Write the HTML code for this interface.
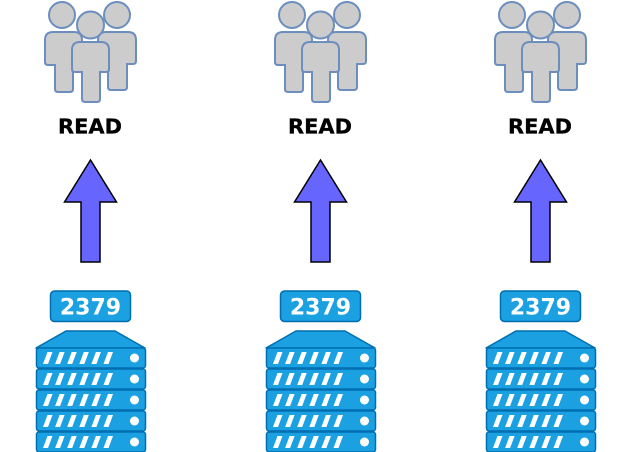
<!DOCTYPE html>
<html>
<head>
<meta charset="utf-8">
<style>
html,body{margin:0;padding:0;background:#fff;}
svg{display:block;}
</style>
</head>
<body>
<svg width="631" height="452" viewBox="0 0 631 452" xmlns="http://www.w3.org/2000/svg">
<defs>
<g id="grp">
  <!-- users -->
  <g fill="#cccccc" stroke="#6c8ebf" stroke-width="2">
    <circle cx="62" cy="15" r="13"/>
    <circle cx="117" cy="15" r="13"/>
    <path d="M45,40 Q45,32 53,32 H74 Q82,32 82,40 V62 Q82,65 79,65 H73 V89 Q73,92 70,92 H58 Q55,92 55,89 V65 H48 Q45,65 45,62 Z"/>
    <path d="M98,40 Q98,32 106,32 H128 Q136,32 136,40 V61 Q136,64 133,64 H127 V87 Q127,90 124,90 H111 Q108,90 108,87 V64 H101 Q98,64 98,61 Z"/>
    <circle cx="90.5" cy="25" r="13.5"/>
    <path d="M72,50 Q72,42 80,42 H101 Q109,42 109,50 V69 Q109,72 106,72 H100 V99 Q100,102 97,102 H85 Q82,102 82,99 V72 H75 Q72,72 72,69 Z"/>
  </g>
  <text x="90" y="133.5" text-anchor="middle" font-family="DejaVu Sans, Liberation Sans, sans-serif" font-weight="bold" font-size="20" textLength="64" lengthAdjust="spacingAndGlyphs" fill="#000" stroke="#000" stroke-width="0.3">READ</text>
  <!-- arrow -->
  <polygon points="90.5,160 116.5,202 100,202 100,262 81,262 81,202 64.5,202" fill="#6666ff" stroke="#000" stroke-width="1.5" stroke-linejoin="miter"/>
  <!-- label -->
  <rect x="50.5" y="291" width="80" height="30.5" rx="4" fill="#1ba1e2" stroke="#006eaf" stroke-width="1.5"/>
  <text x="90.5" y="314.5" text-anchor="middle" font-family="DejaVu Sans, Liberation Sans, sans-serif" font-weight="bold" font-size="22" fill="#fff">2379</text>
  <!-- roof -->
  <polygon points="66,331 115,331 145,348 36,348" fill="#1ba1e2" stroke="#006eaf" stroke-width="1.5" stroke-linejoin="round"/>
  <!-- units -->
  <g id="unit">
    <rect x="36.5" y="348" width="109" height="20" rx="2.5" fill="#1ba1e2" stroke="#006eaf" stroke-width="1.5"/>
    <g fill="#fff">
      <polygon points="43,364 48,364 52.5,352 47.5,352"/>
      <polygon points="55.1,364 60.1,364 64.6,352 59.6,352"/>
      <polygon points="67.2,364 72.2,364 76.7,352 71.7,352"/>
      <polygon points="79.3,364 84.3,364 88.8,352 83.8,352"/>
      <polygon points="91.4,364 96.4,364 100.9,352 95.9,352"/>
      <polygon points="103.5,364 108.5,364 113,352 108,352"/>
      <circle cx="134.5" cy="358" r="4.5"/>
    </g>
  </g>
  <use href="#unit" transform="translate(0,21)"/>
  <use href="#unit" transform="translate(0,42)"/>
  <use href="#unit" transform="translate(0,63)"/>
  <use href="#unit" transform="translate(0,84)"/>
</g>
</defs>
<use href="#grp"/>
<use href="#grp" transform="translate(230,0)"/>
<use href="#grp" transform="translate(450,0)"/>
</svg>
</body>
</html>
